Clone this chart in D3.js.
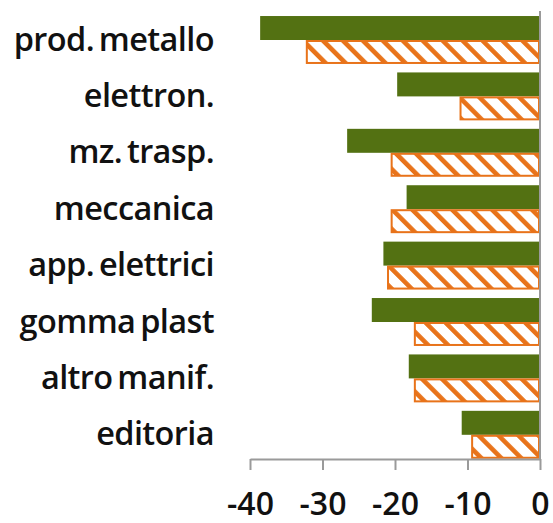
<!DOCTYPE html>
<html>
<head>
<meta charset="utf-8">
<script src="https://cdn.jsdelivr.net/npm/d3@7"></script>
<style>
  html, body { margin: 0; padding: 0; background: #fff; }
  svg { display: block; }
</style>
</head>
<body>
<svg id="chart" width="553" height="523"></svg>
<script>
const categories = ["prod. metallo", "elettron.", "mz. trasp.", "meccanica", "app. elettrici", "gomma plast", "altro manif.", "editoria"];
const seriesA = [-38.6, -19.7, -26.6, -18.4, -21.6, -23.2, -18.1, -10.8];
const seriesB = [-32.3, -11.1, -20.6, -20.6, -21.1, -17.4, -17.4, -9.5];
const tickValues = [-40, -30, -20, -10, 0];

const svg = d3.select("#chart");
const green = "#537112";
const orange = "#E8731A";
const axisGrey = "#9a9a9a";

const x = d3.scaleLinear().domain([-40, 0]).range([250, 540]);
const y = d3.scaleBand().domain(categories).range([11.8, 463]).paddingInner(0.15).paddingOuter(0.075);

const defs = svg.append("defs");
const pat = defs.append("pattern")
  .attr("id", "hatch")
  .attr("patternUnits", "userSpaceOnUse")
  .attr("width", 14.1).attr("height", 14.1)
  .attr("patternTransform", "rotate(-45)");
pat.append("rect").attr("width", 14.1).attr("height", 14.1).attr("fill", "#fff");
pat.append("rect").attr("x", 0).attr("width", 4.6).attr("height", 14.1).attr("fill", orange);

const half = y.bandwidth() / 2;

svg.append("g").selectAll("rect")
  .data(categories.map((c, i) => ({c, v: seriesA[i]})))
  .join("rect")
  .attr("x", d => x(d.v))
  .attr("y", d => y(d.c))
  .attr("width", d => x(0) - x(d.v))
  .attr("height", half)
  .attr("fill", green);

svg.append("g").selectAll("rect")
  .data(categories.map((c, i) => ({c, v: seriesB[i]})))
  .join("rect")
  .attr("x", d => x(d.v) + 1)
  .attr("y", d => y(d.c) + half + 1)
  .attr("width", d => x(0) - x(d.v) - 2)
  .attr("height", half - 2)
  .attr("fill", "url(#hatch)")
  .attr("stroke", orange)
  .attr("stroke-width", 2);

// category labels
svg.append("g").selectAll("text")
  .data(categories)
  .join("text")
  .attr("x", 214)
  .attr("y", d => y(d) + y.bandwidth() / 2 + 10.5)
  .attr("text-anchor", "end")
  .attr("font-family", "'Open Sans', sans-serif")
  .attr("font-weight", 600)
  .attr("font-size", 32.5)
  .attr("letter-spacing", -0.6)
  .attr("word-spacing", -3)
  .attr("fill", "#111")
  .text(d => d);

// x axis
const axis = d3.axisBottom(x).tickValues(tickValues).tickSize(11).tickSizeOuter(0).tickFormat(d3.format("d"));
const gx = svg.append("g").attr("transform", "translate(0,459)").call(axis);
gx.select(".domain").attr("stroke", axisGrey).attr("stroke-width", 2);
gx.selectAll(".tick line").attr("stroke", axisGrey).attr("stroke-width", 2);
gx.selectAll(".tick text")
  .attr("y", 56).attr("dy", 0)
  .attr("font-family", "'Open Sans', sans-serif")
  .attr("font-weight", 600)
  .attr("font-size", 32)
  .attr("fill", "#111")
  .text(d => d === 0 ? "0" : "-" + Math.abs(d));

// zero line
svg.append("line")
  .attr("x1", x(0)).attr("x2", x(0))
  .attr("y1", 11).attr("y2", 459)
  .attr("stroke", axisGrey).attr("stroke-width", 2);
</script>
</body>
</html>
